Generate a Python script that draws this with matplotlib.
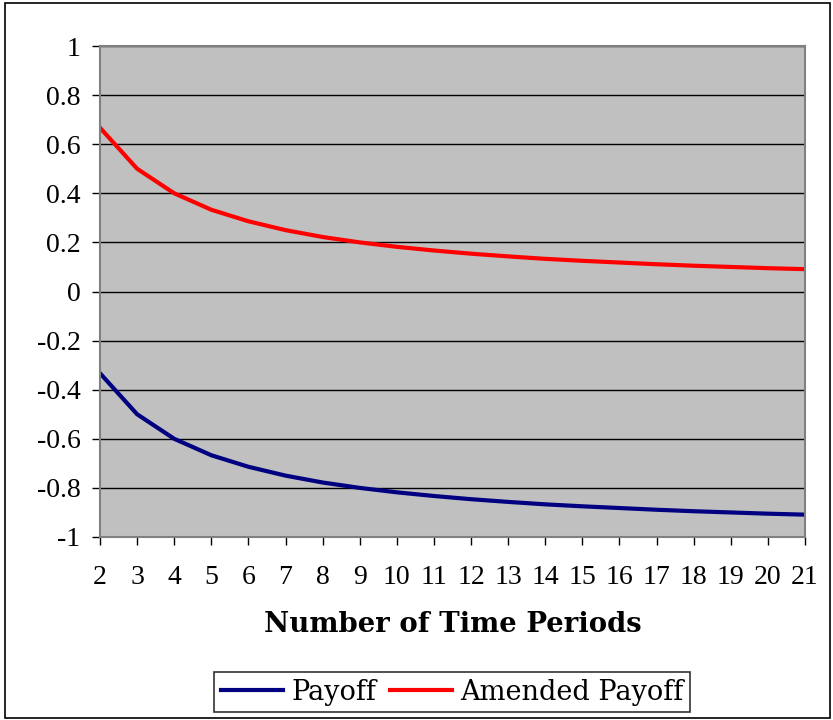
import matplotlib
matplotlib.use("Agg")
import matplotlib.pyplot as plt
from matplotlib.patches import Rectangle

periods = [2, 3, 4, 5, 6, 7, 8, 9, 10, 11, 12, 13, 14, 15, 16, 17, 18, 19, 20, 21]
payoff = [-0.333, -0.5, -0.6, -0.667, -0.714, -0.75, -0.778, -0.8, -0.818, -0.833,
          -0.846, -0.857, -0.867, -0.875, -0.882, -0.889, -0.895, -0.9, -0.905, -0.909]
amended = [0.667, 0.5, 0.4, 0.333, 0.286, 0.25, 0.222, 0.2, 0.182, 0.167,
           0.154, 0.143, 0.133, 0.125, 0.118, 0.111, 0.105, 0.1, 0.095, 0.091]
yticks = [-1, -0.8, -0.6, -0.4, -0.2, 0, 0.2, 0.4, 0.6, 0.8, 1]
ytick_labels = ["-1", "-0.8", "-0.6", "-0.4", "-0.2", "0", "0.2", "0.4", "0.6", "0.8", "1"]

plt.rcParams['font.family'] = ['Liberation Serif', 'DejaVu Serif']

W, H = 833, 720
fig = plt.figure(figsize=(W / 100, H / 100), dpi=100)
fig.patches.append(Rectangle((5 / W, 2 / H), 825 / W, 715 / H, transform=fig.transFigure,
                             fill=False, edgecolor='black', linewidth=1.2))

ax = fig.add_axes([100 / W, 1 - 537 / H, 705 / W, 491 / H])
ax.set_facecolor('#C0C0C0')
l1, = ax.plot(periods, payoff, color='#000080', linewidth=3, label='Payoff')
l2, = ax.plot(periods, amended, color='#FF0000', linewidth=3, label='Amended Payoff')
ax.set_xlim(2, 21)
ax.set_ylim(-1, 1)
ax.set_yticks(yticks)
ax.set_yticklabels(ytick_labels)
ax.set_xticks(periods)
ax.set_xticklabels([str(p) for p in periods])
ax.grid(axis='y', color='black', linewidth=1)
ax.set_axisbelow(True)
for s in ax.spines.values():
    s.set_color('#808080')
    s.set_linewidth(1.5)
ax.tick_params(axis='both', direction='out', length=6, width=1, color='black',
               labelsize=20)
ax.tick_params(axis='x', pad=14)
ax.tick_params(axis='y', pad=8)
ax.set_xlabel('Number of Time Periods', fontsize=19.8, fontweight='bold',
              family='DejaVu Serif', labelpad=15)

leg = fig.legend(handles=[l1, l2], loc='center', bbox_to_anchor=(452 / W, 1 - 692 / H),
                 ncol=2, prop={'family': 'DejaVu Serif', 'size': 19.5},
                 frameon=True, fancybox=False, edgecolor='black',
                 handlelength=2.3, handletextpad=0.3, columnspacing=0.5,
                 borderpad=0.25)
leg.get_frame().set_linewidth(1.2)

fig.savefig('out.png', dpi=100)
